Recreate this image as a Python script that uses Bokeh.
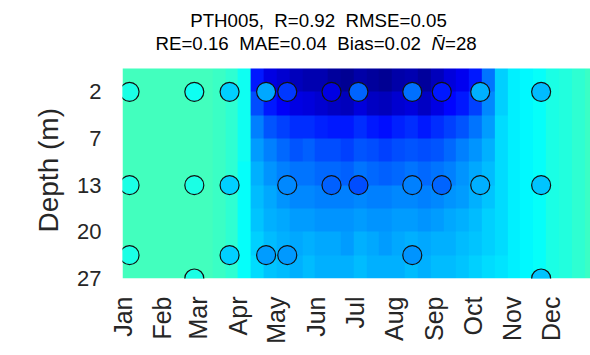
import numpy as np
from bokeh.plotting import figure
from bokeh.models import LinearColorMapper, FixedTicker, Range1d, Label, Title, ColumnDataSource
from bokeh.embed import file_html
from bokeh.resources import INLINE

# ---------------- data ----------------
months = ["Jan", "Feb", "Mar", "Apr", "May", "Jun", "Jul", "Aug", "Sep", "Oct", "Nov", "Dec"]
month_start_day = [0, 31, 59, 90, 120, 151, 181, 212, 243, 273, 304, 334]

depth_ticks = [2, 7, 13, 20, 27]          # tick labels (m)
depth_tick_pos = [1, 2, 3, 4, 5]          # model layer index of each tick

# observations (day of year, depth m, value)
obs_day = [5.5, 56, 83.5, 112, 128.5, 163, 184, 226, 249, 279, 326.5,
           5.5, 56, 83.5, 128.5, 163, 184, 226, 249, 279, 326.5,
           5.5, 83.5, 112, 128.5, 226,
           56, 326.5]
obs_depth = [2] * 11 + [13] * 10 + [23.5] * 5 + [27] * 2
obs_value = [0.40, 0.39, 0.33, 0.29, 0.18, 0.10, 0.225, 0.235, 0.15, 0.30, 0.31,
             0.40, 0.40, 0.33, 0.26, 0.22, 0.20, 0.25, 0.225, 0.30, 0.32,
             0.40, 0.33, 0.28, 0.275, 0.27,
             0.40, 0.32]

# simulated field: 10-day columns, 9 layers from surface (top) to bottom
grid_day_step = 10
field_rows = [
    [0.44, 0.44, 0.44, 0.44, 0.44, 0.44, 0.44, 0.43, 0.42, 0.39,
     0.15, 0.10, 0.08, 0.06, 0.05, 0.05, 0.03, 0.02, 0.04, 0.03, 0.02, 0.04, 0.05, 0.03, 0.06, 0.09, 0.11, 0.15, 0.24,
     0.33, 0.36, 0.37, 0.38, 0.40, 0.41, 0.42, 0.43],
    [0.44, 0.44, 0.44, 0.44, 0.44, 0.44, 0.44, 0.43, 0.42, 0.39,
     0.20, 0.15, 0.12, 0.10, 0.09, 0.08, 0.07, 0.06, 0.09, 0.07, 0.06, 0.08, 0.09, 0.07, 0.10, 0.13, 0.15, 0.19, 0.26,
     0.33, 0.36, 0.37, 0.38, 0.40, 0.41, 0.42, 0.43],
    [0.44, 0.44, 0.44, 0.44, 0.44, 0.44, 0.44, 0.43, 0.42, 0.39,
     0.25, 0.21, 0.19, 0.17, 0.17, 0.16, 0.15, 0.15, 0.17, 0.15, 0.14, 0.16, 0.17, 0.15, 0.17, 0.19, 0.21, 0.24, 0.28,
     0.34, 0.36, 0.37, 0.38, 0.40, 0.41, 0.42, 0.43],
    [0.44, 0.44, 0.44, 0.44, 0.44, 0.44, 0.44, 0.43, 0.42, 0.39,
     0.28, 0.25, 0.23, 0.21, 0.22, 0.20, 0.20, 0.19, 0.21, 0.20, 0.19, 0.20, 0.21, 0.20, 0.21, 0.23, 0.25, 0.27, 0.30,
     0.34, 0.36, 0.37, 0.38, 0.40, 0.41, 0.42, 0.43],
    [0.44, 0.44, 0.44, 0.44, 0.44, 0.44, 0.44, 0.43, 0.42, 0.38,
     0.30, 0.27, 0.25, 0.24, 0.24, 0.23, 0.23, 0.22, 0.24, 0.23, 0.22, 0.23, 0.24, 0.23, 0.24, 0.25, 0.27, 0.29, 0.31,
     0.34, 0.36, 0.37, 0.38, 0.40, 0.41, 0.42, 0.43],
    [0.44, 0.44, 0.44, 0.44, 0.44, 0.44, 0.44, 0.43, 0.42, 0.38,
     0.31, 0.29, 0.27, 0.26, 0.26, 0.25, 0.25, 0.25, 0.26, 0.25, 0.25, 0.26, 0.26, 0.25, 0.26, 0.27, 0.28, 0.30, 0.32,
     0.34, 0.36, 0.37, 0.38, 0.40, 0.41, 0.42, 0.43],
    [0.44, 0.44, 0.44, 0.44, 0.44, 0.44, 0.44, 0.43, 0.42, 0.38,
     0.32, 0.30, 0.29, 0.28, 0.28, 0.27, 0.27, 0.27, 0.28, 0.27, 0.27, 0.28, 0.28, 0.27, 0.28, 0.29, 0.30, 0.31, 0.33,
     0.34, 0.36, 0.37, 0.38, 0.40, 0.41, 0.42, 0.43],
    [0.44, 0.44, 0.44, 0.44, 0.44, 0.44, 0.44, 0.43, 0.42, 0.38,
     0.33, 0.31, 0.30, 0.29, 0.30, 0.29, 0.29, 0.28, 0.30, 0.29, 0.28, 0.29, 0.30, 0.29, 0.30, 0.30, 0.31, 0.32, 0.33,
     0.34, 0.36, 0.37, 0.38, 0.40, 0.41, 0.42, 0.43],
    [0.44, 0.44, 0.44, 0.44, 0.44, 0.44, 0.44, 0.43, 0.42, 0.38,
     0.34, 0.32, 0.31, 0.30, 0.31, 0.30, 0.30, 0.30, 0.31, 0.30, 0.30, 0.30, 0.31, 0.30, 0.31, 0.31, 0.32, 0.33, 0.34,
     0.35, 0.36, 0.37, 0.38, 0.40, 0.41, 0.42, 0.43],
]

SP = "\u00a0 "   # double space that survives SVG whitespace collapsing
title_line1 = "PTH005," + SP + "R=0.92" + SP + "RMSE=0.05"
title_line2 = "RE=0.16" + SP + "MAE=0.04" + SP + "Bias=0.02"
title_n = "N\u0304"
title_n_val = "=28"

# ---------------- colormap (jet) ----------------
t = np.linspace(0, 1, 256)
r = np.clip(np.minimum(4 * t - 1.5, -4 * t + 4.5), 0, 1)
g = np.clip(np.minimum(4 * t - 0.5, -4 * t + 3.5), 0, 1)
b = np.clip(np.minimum(4 * t + 0.5, -4 * t + 2.5), 0, 1)
jet = ["#%02x%02x%02x" % (int(round(255 * a)), int(round(255 * c)), int(round(255 * d))) for a, c, d in zip(r, g, b)]
mapper = LinearColorMapper(palette=jet, low=0.0, high=1.0)

FONT = "Liberation Sans"

# layout: the frame reaches the top of the canvas so the title texts can sit inside it
W, H = 590, 355
LEFT, BOTTOM = 122, 77
HEAT_TOP_PX = 68                                  # where the depth section starts
FRAME_H = H - BOTTOM
y_bottom = max(depth_tick_pos)
y_heat_top = min(depth_tick_pos) - 0.5
px_per_unit = (FRAME_H - HEAT_TOP_PX) / (y_bottom - y_heat_top)
y_frame_top = y_heat_top - HEAT_TOP_PX / px_per_unit
days_per_px = 365 / (W - LEFT)

def ypx(px_from_top):
    return y_frame_top + px_from_top / px_per_unit

def xpx(px_from_left):
    return (px_from_left - LEFT) * days_per_px

p = figure(width=W, height=H, x_range=Range1d(0, 365), y_range=Range1d(y_bottom, y_frame_top),
           output_backend="svg", toolbar_location=None,
           min_border_left=LEFT, min_border_right=0, min_border_top=0, min_border_bottom=BOTTOM)
p.outline_line_color = None
p.grid.visible = False
p.background_fill_color = "white"

field = np.array(field_rows)
n_rows, n_cols = field.shape
p.image(image=[field], x=0, y=y_heat_top, dw=n_cols * grid_day_step,
        dh=(y_bottom - y_heat_top), color_mapper=mapper)

src = ColumnDataSource(dict(day=obs_day,
                            pos=np.interp(obs_depth, depth_ticks, depth_tick_pos),
                            value=obs_value))
p.scatter(x="day", y="pos", source=src, size=19,
          fill_color={"field": "value", "transform": mapper},
          line_color="#111111", line_width=1.2)

# axes
p.xaxis.ticker = FixedTicker(ticks=month_start_day)
p.xaxis.major_label_overrides = {d: m for d, m in zip(month_start_day, months)}
p.xaxis.major_label_orientation = np.pi / 2
p.xaxis.major_label_text_font = FONT
p.xaxis.major_label_text_font_size = "25px"
p.xaxis.major_label_text_color = "#262626"
p.xaxis.major_label_standoff = 18

p.yaxis.ticker = FixedTicker(ticks=depth_tick_pos)
p.yaxis.major_label_overrides = {pp: str(d) for pp, d in zip(depth_tick_pos, depth_ticks)}
p.yaxis.major_label_text_font = FONT
p.yaxis.major_label_text_font_size = "22px"
p.yaxis.major_label_text_color = "#262626"
p.yaxis.major_label_standoff = 21

for ax in (p.xaxis[0], p.yaxis[0]):
    ax.axis_line_color = None
    ax.major_tick_line_color = None
    ax.minor_tick_line_color = None
    ax.major_tick_out = 0
    ax.major_tick_in = 0

# y-axis title, centred on the depth section
p.add_layout(Title(text="Depth (m)", align="left", offset=46, text_font=FONT, text_font_size="28px",
                   text_font_style="normal", text_color="#262626", standoff=22), "left")

# two-line title inside the (white) upper part of the frame
common = dict(text_font=FONT, text_font_size="18.7px", text_color="black", text_baseline="alphabetic")
p.add_layout(Label(x=xpx(318), y=ypx(20), text=title_line1, text_align="center", **common))
p.add_layout(Label(x=xpx(155), y=ypx(42.5), text=title_line2, text_align="left", **common))
p.add_layout(Label(x=xpx(431), y=ypx(42.5), text=title_n, text_align="left", text_font_style="italic", **common))
p.add_layout(Label(x=xpx(444.5), y=ypx(42.5), text=title_n_val, text_align="left", **common))

open("out.html", "w").write(file_html(p, INLINE))
